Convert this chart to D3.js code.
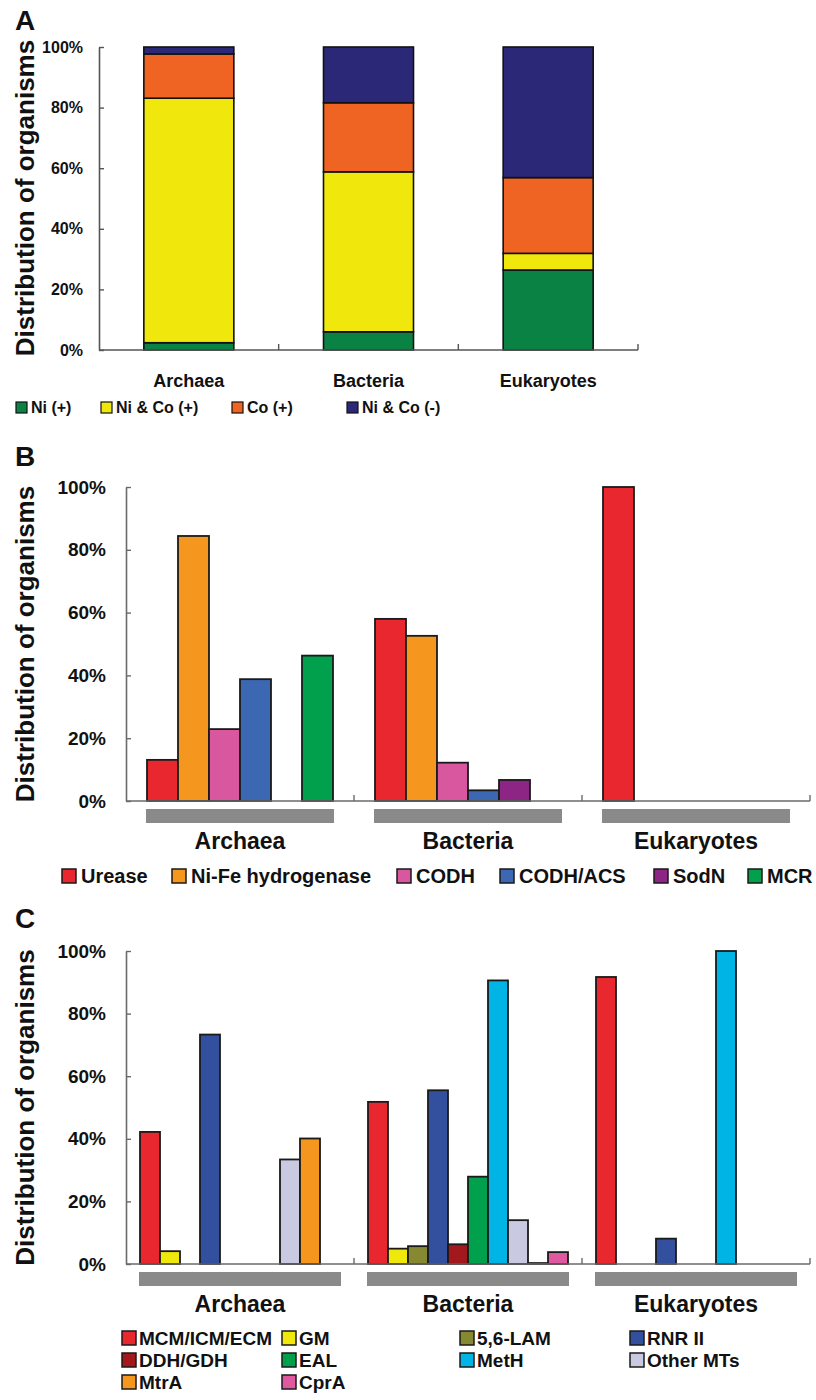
<!DOCTYPE html>
<html>
<head>
<meta charset="utf-8">
<script src="https://cdn.jsdelivr.net/npm/d3@7/dist/d3.min.js"></script>
<style>
  html, body { margin: 0; padding: 0; background: #fff; }
  svg { display: block; }
  text { font-family: "Liberation Sans", Arial, Helvetica, sans-serif; font-weight: bold; fill: #111; }
</style>
</head>
<body>
<svg id="fig" width="816" height="1400"></svg>
<script>
// ---- Data ----------------------------------------------------------------
const domains = ["Archaea", "Bacteria", "Eukaryotes"];
const yTicks = [0, 20, 40, 60, 80, 100];

// Panel A: share of organisms by Ni / Co utilisation (%)
const metalGroups = ["Ni (+)", "Ni & Co (+)", "Co (+)", "Ni & Co (-)"];
const niOnly  = [2.4, 6.0, 26.4];
const niAndCo = [80.7, 52.8, 5.5];
const coOnly  = [14.6, 22.8, 25.0];
const neither = [2.3, 18.4, 43.1];

// Panel B: Ni-dependent enzymes (%)
const niEnzymes = ["Urease", "Ni-Fe hydrogenase", "CODH", "CODH/ACS", "SodN", "MCR"];
const urease          = [13.1, 58.0, 100];
const nifeHydrogenase = [84.4, 52.6, 0];
const codh            = [22.9, 12.2, 0];
const codhAcs         = [38.8, 3.4, 0];
const sodN            = [0, 6.7, 0];
const mcr             = [46.3, 0, 0];

// Panel C: B12-dependent enzymes (%)
const b12Enzymes = ["MCM/ICM/ECM", "GM", "5,6-LAM", "RNR II", "DDH/GDH", "EAL", "MetH", "Other MTs", "MtrA", "CprA"];
const mcm      = [42.2, 51.8, 91.7];
const gm       = [4.1, 4.9, 0];
const lam      = [0, 5.7, 0];
const rnr2     = [73.3, 55.5, 8.1];
const ddh      = [0, 6.3, 0];
const eal      = [0, 27.9, 0];
const metH     = [0, 90.6, 100];
const otherMTs = [33.4, 14.0, 0];
const mtrA     = [40.1, 0.3, 0];
const cprA     = [0, 3.8, 0];

// ---- Styling -------------------------------------------------------------
const colorsA = ["#0a8244", "#f0e80c", "#ef6423", "#2b2877"];
const colorsB = ["#e8282e", "#f5961f", "#d9579f", "#3b67b3", "#8c2583", "#00a04d"];
const colorsC = ["#e8282e", "#f0e80c", "#878832", "#33509e", "#a3181d", "#00a04d", "#00b4e6", "#c9c9e1", "#f5961f", "#e0589f"];

const svg = d3.select("#fig");

function yAxisTitle(g, x, y, size) {
  g.append("text")
    .attr("transform", `translate(${x},${y}) rotate(-90)`)
    .attr("text-anchor", "middle")
    .style("font-size", size + "px")
    .text("Distribution of organisms");
}

function yAxis(g, y, x0, fontSize, pad, color) {
  const ax = g.append("g")
    .attr("transform", `translate(${x0},0)`)
    .call(d3.axisLeft(y).tickValues(yTicks).tickFormat(d => d + "%")
      .tickSize(-5).tickSizeOuter(0).tickPadding(pad));
  ax.select(".domain").attr("stroke", color).attr("stroke-width", 1.6);
  ax.selectAll(".tick line").attr("stroke", color).attr("stroke-width", 1.4);
  ax.selectAll(".tick text")
    .style("font-size", fontSize + "px")
    .style("font-family", '"Liberation Sans", Arial, sans-serif')
    .style("font-weight", "bold")
    .attr("fill", "#111");
}

function xBaseline(g, x, y0, color) {
  const left = x.range()[0], right = x.range()[1];
  g.append("line").attr("x1", left).attr("x2", right).attr("y1", y0).attr("y2", y0)
    .attr("stroke", color).attr("stroke-width", 1.6);
  g.selectAll("line.sep").data(domains).join("line").attr("class", "sep")
    .attr("x1", d => x(d) + x.bandwidth()).attr("x2", d => x(d) + x.bandwidth())
    .attr("y1", y0).attr("y2", y0 - 6)
    .attr("stroke", color).attr("stroke-width", 1.4);
}

// ---- Panel A: stacked bars ----------------------------------------------
{
  const g = svg.append("g");
  const y = d3.scaleLinear().domain([0, 100]).range([350, 47]);
  const x = d3.scaleBand().domain(domains).range([99, 638]);
  const barW = 90;

  g.append("text").attr("x", 15).attr("y", 30).style("font-size", "28px").text("A");
  yAxisTitle(g, 34, 198, 26);

  const rows = domains.map((d, i) => ({
    domain: d, [metalGroups[0]]: niOnly[i], [metalGroups[1]]: niAndCo[i],
    [metalGroups[2]]: coOnly[i], [metalGroups[3]]: neither[i]
  }));
  const stacked = d3.stack().keys(metalGroups)(rows);

  g.selectAll("g.layer").data(stacked).join("g").attr("class", "layer")
    .attr("fill", (d, i) => colorsA[i])
    .selectAll("rect").data(d => d).join("rect")
    .attr("x", d => x(d.data.domain) + x.bandwidth() / 2 - barW / 2)
    .attr("width", barW)
    .attr("y", d => y(d[1]))
    .attr("height", d => y(d[0]) - y(d[1]))
    .attr("stroke", "#111").attr("stroke-width", 1.6);

  xBaseline(g, x, 350, "#555");
  yAxis(g, y, 99, 16, 16, "#555");

  g.selectAll("text.cat").data(domains).join("text").attr("class", "cat")
    .attr("x", d => x(d) + x.bandwidth() / 2).attr("y", 387)
    .attr("text-anchor", "middle").style("font-size", "18px").text(d => d);

  // legend
  const legX = [16, 101, 232, 347];
  const leg = g.selectAll("g.leg").data(metalGroups).join("g").attr("class", "leg")
    .attr("transform", (d, i) => `translate(${legX[i]},402)`);
  leg.append("rect").attr("width", 11).attr("height", 11)
    .attr("fill", (d, i) => colorsA[i]).attr("stroke", "#111").attr("stroke-width", 1.2);
  leg.append("text").attr("x", 15).attr("y", 11).style("font-size", "16px").text(d => d);
}

// ---- Grouped bar panel helper (B and C) ----------------------------------
function groupedPanel(opts) {
  const g = svg.append("g");
  const y = d3.scaleLinear().domain([0, 100]).range([opts.y0, opts.y100]);
  const x0 = d3.scaleBand().domain(domains).range([126, 810]);
  const x1 = d3.scaleBand().domain(opts.keys)
    .range([opts.inset, x0.bandwidth() - opts.inset]);

  g.append("text").attr("x", 15).attr("y", opts.letterY).style("font-size", "28px").text(opts.letter);
  yAxisTitle(g, 34, (opts.y0 + opts.y100) / 2, 26);

  const grp = g.selectAll("g.dom").data(domains).join("g").attr("class", "dom")
    .attr("transform", d => `translate(${x0(d)},0)`);

  grp.selectAll("rect.bar")
    .data((d, i) => opts.keys.map((k, j) => ({ key: k, j, v: opts.series[j][i] })).filter(e => e.v > 0))
    .join("rect").attr("class", "bar")
    .attr("x", d => x1(d.key)).attr("width", x1.bandwidth())
    .attr("y", d => y(d.v)).attr("height", d => y(0) - y(d.v))
    .attr("fill", d => opts.colors[d.j])
    .attr("stroke", "#1a1a1a").attr("stroke-width", 1.8);

  // grey band under each domain
  grp.append("rect")
    .attr("x", x1.range()[0] - 1).attr("width", x1.range()[1] - x1.range()[0] + 2)
    .attr("y", opts.y0 + 8).attr("height", 14)
    .attr("fill", "#8a8a8a");

  xBaseline(g, x0, opts.y0, "#6a6a6a");
  yAxis(g, y, 126, 19, 20, "#6a6a6a");

  g.selectAll("text.cat").data(domains).join("text").attr("class", "cat")
    .attr("x", d => x0(d) + x0.bandwidth() / 2).attr("y", opts.catY)
    .attr("text-anchor", "middle").style("font-size", "23px").text(d => d);

  const leg = g.selectAll("g.leg").data(opts.keys).join("g").attr("class", "leg")
    .attr("transform", (d, i) => `translate(${opts.legPos(i)})`);
  leg.append("rect").attr("width", 14).attr("height", 14)
    .attr("fill", (d, i) => opts.colors[i]).attr("stroke", "#1a1a1a").attr("stroke-width", 1.5);
  leg.append("text").attr("x", opts.legGap).attr("y", 14).style("font-size", opts.legFont + "px").text(d => d);
}

// ---- Panel B ---------------------------------------------------------------
{
  const legX = [62, 172, 397, 500, 654, 748];
  groupedPanel({
    letter: "B", letterY: 466,
    keys: niEnzymes,
    series: [urease, nifeHydrogenase, codh, codhAcs, sodN, mcr],
    colors: colorsB,
    y0: 801, y100: 487, inset: 21, catY: 849,
    legFont: 20, legGap: 19,
    legPos: i => `${legX[i]},869`
  });
}

// ---- Panel C ---------------------------------------------------------------
{
  const colX = [122, 282, 460, 630];
  groupedPanel({
    letter: "C", letterY: 928,
    keys: b12Enzymes,
    series: [mcm, gm, lam, rnr2, ddh, eal, metH, otherMTs, mtrA, cprA],
    colors: colorsC,
    y0: 1264, y100: 951, inset: 14, catY: 1312,
    legFont: 19, legGap: 17,
    legPos: i => `${colX[i % 4]},${1331 + Math.floor(i / 4) * 22}`
  });
}
</script>
</body>
</html>
